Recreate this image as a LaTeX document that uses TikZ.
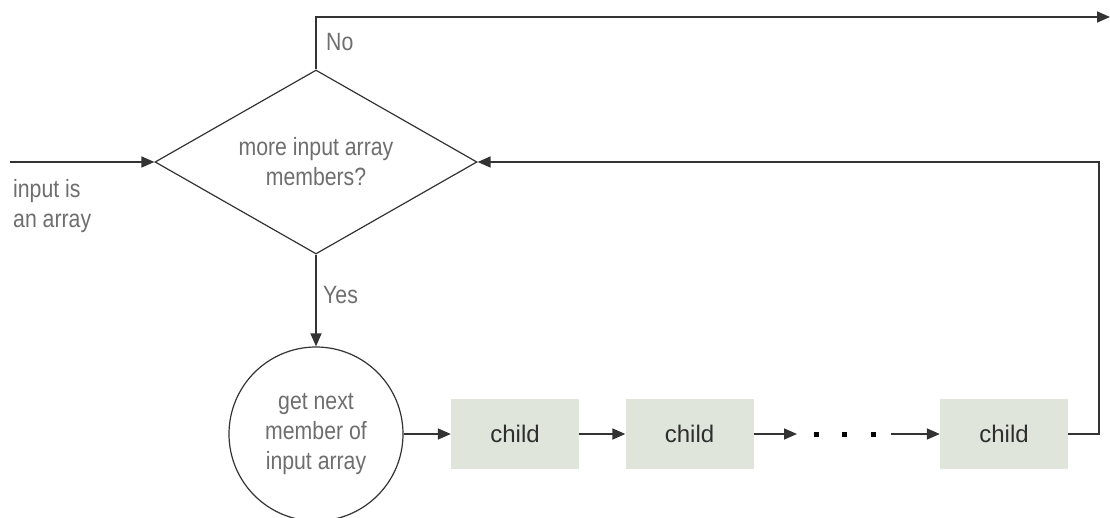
\documentclass[tikz,border=0pt]{standalone}
\usepackage{fontspec}
\setmainfont{Liberation Sans}[FakeStretch=0.85]
\newfontfamily\childfont{Liberation Sans}
\usetikzlibrary{shapes.geometric,arrows.meta}
\definecolor{linec}{HTML}{333333}
\definecolor{textc}{HTML}{6E6E6E}
\definecolor{boxfill}{HTML}{E0E5DC}
\definecolor{childtext}{HTML}{2E2E2E}
\begin{document}
\begin{tikzpicture}[x=1pt,y=-1pt,
  conn/.style={draw=linec,line width=1.6pt,-{Triangle[length=13pt,width=11pt]}},
  lbl/.style={text=textc,font=\fontsize{25}{30}\selectfont,inner sep=0pt},
  decision/.style={diamond,draw=linec,line width=1.2pt,shape aspect=1.75,minimum width=322pt,minimum height=184pt,inner sep=0pt,text=textc,font=\fontsize{25}{30}\selectfont,align=center},
  process/.style={circle,draw=linec,line width=1.2pt,minimum size=174pt,inner sep=0pt,text=textc,font=\fontsize{25}{30}\selectfont,align=center},
  childbox/.style={rectangle,fill=boxfill,minimum width=128pt,minimum height=70pt,inner sep=0pt,text=childtext,font=\childfont\fontsize{24}{28}\selectfont},
  dotsq/.style={rectangle,fill=black,minimum size=5pt,inner sep=0pt}]
\useasboundingbox (0,0) rectangle (1110,518);
\clip (0,0) rectangle (1110,518);
\node[decision] (dec) at (316,162) {more input array\\members?};
\node[process] (get) at (316,434) {get next\\member of\\input array};
\node[childbox] (c1) at (515,434) {child};
\node[childbox] (c2) at (689.5,434) {child};
\node[childbox] (c3) at (1004,434) {child};
\coordinate (in) at (10,162);
\coordinate (topL) at (316,17);
\coordinate (out) at (1110,17);
\coordinate (fbR) at (1099,434);
\coordinate (fbT) at (1099,162);
\coordinate (a1) at (797,434);
\node[dotsq] (d1) at (816,434) {};
\node[dotsq] (d2) at (844,434) {};
\node[dotsq] (d3) at (873,434) {};
\coordinate (a2) at (891,434);
\draw[conn] (in) -- (dec.west);
\draw[conn] (dec.north) -- (topL) -- (out);
\draw[conn] (dec.south) -- (get.north);
\draw[conn] (get.east) -- (c1.west);
\draw[conn] (c1.east) -- (c2.west);
\draw[conn] (c2.east) -- (a1);
\draw[conn] (a2) -- (c3.west);
\draw[conn] (c3.east) -- (fbR) -- (fbT) -- (dec.east);
\node[lbl,anchor=west] (no) at (326,42) {No};
\node[lbl,anchor=west] (yes) at (323,295) {Yes};
\node[lbl,anchor=north west,align=left] (inlbl) at (13,179) {input is\\an array};
\end{tikzpicture}
\end{document}
